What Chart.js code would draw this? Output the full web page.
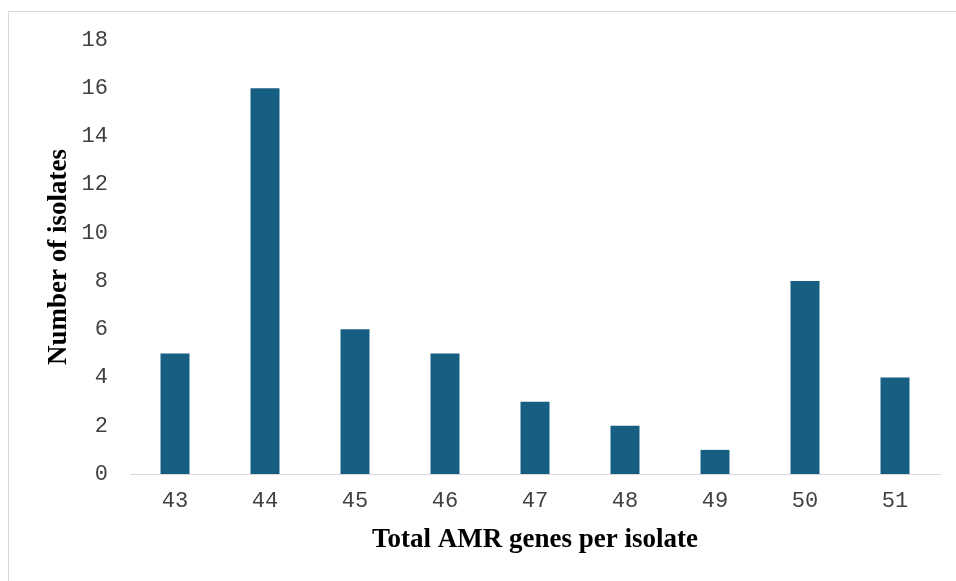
<!DOCTYPE html>
<html>
<head>
<meta charset="utf-8">
<script src="https://cdn.jsdelivr.net/npm/chart.js@4/dist/chart.umd.min.js"></script>
<style>
  html, body { margin: 0; padding: 0; background: #ffffff; overflow: hidden; }
  #frame { position: absolute; left: 8px; top: 11px; width: 980px; height: 620px; border: 1px solid #d9d9d9; box-sizing: border-box; }
  #wrap { position: absolute; left: 0; top: 0; width: 956px; height: 581px; }
</style>
</head>
<body>
<div id="frame"></div>
<div id="wrap"><canvas id="c" width="956" height="581"></canvas></div>
<script>
const categories = ["43", "44", "45", "46", "47", "48", "49", "50", "51"];
const isolateCounts = [5, 16, 6, 5, 3, 2, 1, 8, 4];
const yTicks = [0, 2, 4, 6, 8, 10, 12, 14, 16, 18];
const xTitle = "Total AMR genes per isolate";
const yTitle = "Number of isolates";

const tickFont = { family: "'Liberation Mono', 'Courier New', monospace", size: 22 };
const titleFont = { family: "'Liberation Serif', 'Times New Roman', serif", size: 27, weight: "bold" };

new Chart(document.getElementById("c"), {
  type: "bar",
  data: {
    labels: categories,
    datasets: [{
      data: isolateCounts,
      backgroundColor: "#175f82",
      borderWidth: 0,
      barPercentage: 1,
      categoryPercentage: 0.322
    }]
  },
  options: {
    responsive: false,
    animation: false,
    devicePixelRatio: 1,
    layout: { padding: { top: 40, right: 16, bottom: 0, left: 0 } },
    plugins: { legend: { display: false }, tooltip: { enabled: false } },
    scales: {
      x: {
        grid: { display: false, drawTicks: false },
        border: { display: true, color: "#d9d9d9", width: 1 },
        ticks: { color: "#404040", font: tickFont, padding: 14, maxRotation: 0 },
        title: { display: true, text: xTitle, color: "#000000", font: titleFont, padding: { top: 0, bottom: 25 } },
        afterFit: (s) => { s.height = 107; }
      },
      y: {
        min: 0, max: 18,
        afterBuildTicks: (s) => { s.ticks = yTicks.map(v => ({ value: v })); },
        grid: { display: false, drawTicks: false },
        border: { display: false },
        ticks: { color: "#404040", font: tickFont, padding: 22 },
        title: { display: true, text: yTitle, color: "#000000", font: titleFont, padding: { top: 43, bottom: 0 } },
        afterFit: (s) => { s.width = 130; }
      }
    }
  }
});
</script>
</body>
</html>
